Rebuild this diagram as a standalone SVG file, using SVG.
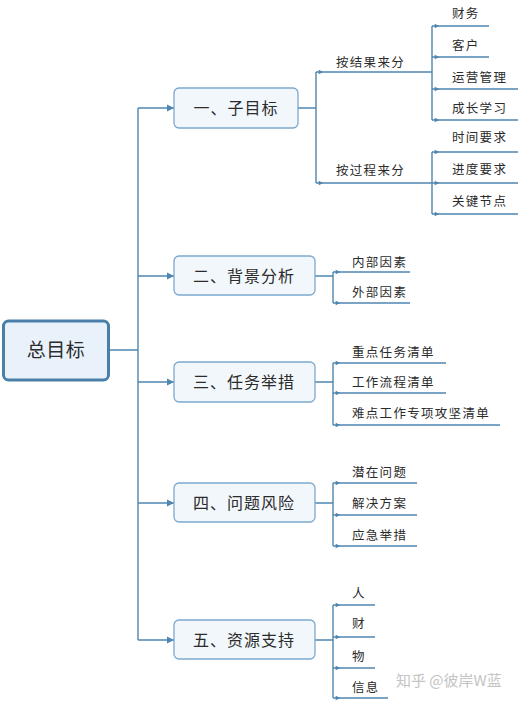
<svg xmlns="http://www.w3.org/2000/svg" width="518" height="703" viewBox="0 0 518 703">
<defs>
<style>
.ln{fill:none;stroke:#4f86b0;stroke-width:1.4}
.a{marker-start:url(#ms)}
.e{marker-end:url(#me)}
.box{fill:#f2f7fc;stroke:#7ea9cf;stroke-width:1.3}
.root{fill:#e9f2fb;stroke:#4a7fa8;stroke-width:3}
.t1{font-family:"Noto Sans CJK SC","Noto Sans",sans-serif;font-size:16px;fill:#2b2b2b;text-anchor:middle;letter-spacing:1px}
.t0{font-family:"Noto Sans CJK SC","Noto Sans",sans-serif;font-size:19px;fill:#2b2b2b;text-anchor:middle;letter-spacing:0.5px}
.t2{font-family:"Noto Sans CJK SC","Noto Sans",sans-serif;font-size:12.5px;fill:#2b2b2b;letter-spacing:1.3px}
.wm{font-family:"Noto Sans CJK SC","Noto Sans",sans-serif;font-size:15px;fill:#c4c4c4}
</style>
<marker id="ms" markerWidth="12" markerHeight="8" refX="-4" refY="3.5" orient="auto" markerUnits="userSpaceOnUse" viewBox="-6 0 18 7">
<path d="M0,0 L7,3.5 L0,7 Z" fill="#4f86b0"/>
</marker>
<marker id="me" markerWidth="8" markerHeight="8" refX="7" refY="3.5" orient="auto" markerUnits="userSpaceOnUse" viewBox="0 0 8 7">
<path d="M0,0 L7,3.5 L0,7 Z" fill="#4f86b0"/>
</marker>
</defs>
<rect width="518" height="703" fill="#fff"/>
<g id="connectors">
<path class="ln" d="M109,350 H138 M138,108 V640"/>
<path class="ln e" d="M138,108 H174"/>
<path class="ln e" d="M138,276 H174"/>
<path class="ln e" d="M138,382 H174"/>
<path class="ln e" d="M138,503 H174"/>
<path class="ln e" d="M138,640 H174"/>
<path class="ln" d="M298,108 H316 M316,72 V183"/>
<path class="ln a" d="M316,72 H432"/>
<path class="ln a" d="M316,183 H432"/>
<path class="ln" d="M432,26 V120"/>
<path class="ln a" d="M432,26 H489"/>
<path class="ln a" d="M432,57 H489"/>
<path class="ln a" d="M432,89 H518"/>
<path class="ln a" d="M432,120 H518"/>
<path class="ln" d="M432,152 V214"/>
<path class="ln a" d="M432,152 H518"/>
<path class="ln a" d="M432,183 H518"/>
<path class="ln a" d="M432,214 H518"/>
<path class="ln" d="M315,276 H333 M333,272 V303"/>
<path class="ln a" d="M333,272 H410"/>
<path class="ln a" d="M333,303 H410"/>
<path class="ln" d="M315,382 H333 M333,363 V425"/>
<path class="ln a" d="M333,363 H446"/>
<path class="ln a" d="M333,393 H446"/>
<path class="ln a" d="M333,425 H500"/>
<path class="ln" d="M315,503 H333 M333,483 V546"/>
<path class="ln a" d="M333,483 H417"/>
<path class="ln a" d="M333,515 H417"/>
<path class="ln a" d="M333,546 H417"/>
<path class="ln" d="M315,640 H333 M333,605 V698"/>
<path class="ln a" d="M333,605 H375"/>
<path class="ln a" d="M333,637 H375"/>
<path class="ln a" d="M333,668 H375"/>
<path class="ln a" d="M333,698 H388"/>
</g>
<g id="root"><rect class="root" x="3.5" y="321" width="105" height="59" rx="5"/><text class="t0" x="56" y="357">总目标</text></g>
<g id="n1"><rect class="box" x="174" y="88" width="124" height="40" rx="5"/><text class="t1" x="236" y="114">一、子目标</text></g>
<g id="n2"><rect class="box" x="174" y="256" width="141" height="39" rx="5"/><text class="t1" x="244" y="281.5">二、背景分析</text></g>
<g id="n3"><rect class="box" x="174" y="362" width="141" height="40" rx="5"/><text class="t1" x="244" y="388">三、任务举措</text></g>
<g id="n4"><rect class="box" x="174" y="483" width="141" height="39" rx="5"/><text class="t1" x="244" y="508.5">四、问题风险</text></g>
<g id="n5"><rect class="box" x="174" y="620" width="141" height="39" rx="5"/><text class="t1" x="244" y="645.5">五、资源支持</text></g>
<g id="n1a"><text class="t2" x="336" y="67">按结果来分</text></g>
<g id="n1b"><text class="t2" x="336" y="175">按过程来分</text></g>
<g id="l1"><text class="t2" x="452" y="17.5">财务</text></g>
<g id="l2"><text class="t2" x="452" y="49.5">客户</text></g>
<g id="l3"><text class="t2" x="452" y="81.5">运营管理</text></g>
<g id="l4"><text class="t2" x="452" y="112.5">成长学习</text></g>
<g id="l5"><text class="t2" x="452" y="141.5">时间要求</text></g>
<g id="l6"><text class="t2" x="452" y="173.5">进度要求</text></g>
<g id="l7"><text class="t2" x="452" y="205.5">关键节点</text></g>
<g id="l8"><text class="t2" x="352" y="266.5">内部因素</text></g>
<g id="l9"><text class="t2" x="352" y="296.5">外部因素</text></g>
<g id="l10"><text class="t2" x="352" y="356.5">重点任务清单</text></g>
<g id="l11"><text class="t2" x="352" y="386.5">工作流程清单</text></g>
<g id="l12"><text class="t2" x="352" y="417.5">难点工作专项攻坚清单</text></g>
<g id="l13"><text class="t2" x="352" y="476.5">潜在问题</text></g>
<g id="l14"><text class="t2" x="352" y="507.5">解决方案</text></g>
<g id="l15"><text class="t2" x="352" y="539.5">应急举措</text></g>
<g id="l16"><text class="t2" x="352" y="597.5">人</text></g>
<g id="l17"><text class="t2" x="352" y="627.5">财</text></g>
<g id="l18"><text class="t2" x="352" y="660.5">物</text></g>
<g id="l19"><text class="t2" x="352" y="691.5">信息</text></g>
<text class="wm" x="396" y="686">知乎 @彼岸W蓝</text>
</svg>
